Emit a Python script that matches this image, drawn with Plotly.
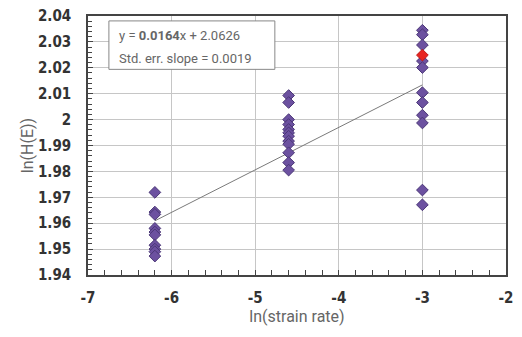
import plotly.graph_objects as go

# Data
x_levels = [-6.2, -4.6, -3.0]
y_low = [1.9719, 1.9643, 1.9634, 1.9580, 1.9566, 1.9555, 1.9515, 1.9500, 1.9490, 1.9473]
y_mid = [2.0093, 2.0066, 2.0000, 1.9981, 1.9962, 1.9949, 1.9936, 1.9917, 1.9905, 1.9872, 1.9834, 1.9805]
y_high = [2.0345, 2.0328, 2.0288, 2.0226, 2.0201, 2.0104, 2.0066, 2.0017, 1.9987, 1.9728, 1.9671]
highlight_x = [-3.0]
highlight_y = [2.0249]
slope = 0.0164
intercept = 2.0626
slope_err = 0.0019
x_ticks = [-7, -6, -5, -4, -3, -2]
y_ticks = [1.94, 1.95, 1.96, 1.97, 1.98, 1.99, 2.00, 2.01, 2.02, 2.03, 2.04]
y_tick_text = ["1.94", "1.95", "1.96", "1.97", "1.98", "1.99", "2", "2.01", "2.02", "2.03", "2.04"]

xs = [x_levels[0]] * len(y_low) + [x_levels[1]] * len(y_mid) + [x_levels[2]] * len(y_high)
ys = y_low + y_mid + y_high

fig = go.Figure()
fit_x = [x_levels[0], x_levels[-1]]
fit_y = [slope * v + intercept for v in fit_x]
fig.add_trace(go.Scatter(x=fit_x, y=fit_y, mode="lines",
                         line=dict(color="#7a7a7a", width=1), showlegend=False))
fig.add_trace(go.Scatter(x=xs, y=ys, mode="markers",
                         marker=dict(symbol="diamond", size=9, color="#6c51a0",
                                     line=dict(color="#4b3777", width=1)),
                         showlegend=False))
fig.add_trace(go.Scatter(x=highlight_x, y=highlight_y, mode="markers",
                         marker=dict(symbol="diamond", size=9, color="#e8241f",
                                     line=dict(color="#c01a18", width=1)),
                         showlegend=False))

tickfont = dict(family="Liberation Sans Narrow, DejaVu Sans Condensed, sans-serif", size=15,
                color="#333333", weight="bold")
titlefont = dict(family="Roboto, sans-serif", size=16, color="#666666")

fig.update_xaxes(range=[-7, -2], tickvals=x_ticks, ticktext=[str(v) for v in x_ticks],
                 showgrid=True, gridcolor="#c6c6c6", gridwidth=1,
                 showline=True, linecolor="#444444", linewidth=1.5, mirror=True,
                 ticks="inside", ticklen=5, tickcolor="#444444",
                 minor=dict(dtick=0.2, ticks="inside", ticklen=5, tickcolor="#444444", showgrid=False),
                 tickfont=tickfont, zeroline=False, ticklabelstandoff=8, automargin=False,
                 ticklabeloverflow="allow",
                 title=dict(text="ln(strain rate)", font=titlefont, standoff=2))
fig.update_yaxes(range=[1.94, 2.04], tickvals=y_ticks, ticktext=y_tick_text,
                 showgrid=True, gridcolor="#c6c6c6", gridwidth=1,
                 showline=True, linecolor="#444444", linewidth=1.5, mirror=True,
                 ticks="inside", ticklen=5, tickcolor="#444444",
                 minor=dict(dtick=0.002, ticks="inside", ticklen=4, tickcolor="#444444", showgrid=False),
                 tickfont=tickfont, zeroline=False, ticklabelstandoff=12, automargin=False,
                 ticklabeloverflow="allow",
                 title=dict(text="ln(H(E))", font=titlefont, standoff=0))

# equation box
fig.add_shape(type="rect", xref="paper", yref="paper", x0=0.05, x1=0.447, y0=0.794, y1=0.981,
              line=dict(color="#888888", width=1), fillcolor="white", layer="above")
boxfont = dict(family="Roboto, sans-serif", size=13, color="#666666")
fig.add_annotation(xref="paper", yref="paper", x=0.069, y=0.925, xanchor="left", yanchor="middle",
                   text=f"y = <b>{slope:.4f}</b>x + {intercept:.4f}", showarrow=False, font=boxfont)
fig.add_annotation(xref="paper", yref="paper", x=0.069, y=0.835, xanchor="left", yanchor="middle",
                   text=f"Std. err. slope = {slope_err:.4f}", showarrow=False, font=boxfont)

# page body adds an 8px margin, so the figure is sized to fit the window without scrolling
fig.update_layout(width=514, height=321, margin=dict(l=80, r=16, t=8, b=54),
                  plot_bgcolor="white", paper_bgcolor="white")
fig.write_html("out.html")
